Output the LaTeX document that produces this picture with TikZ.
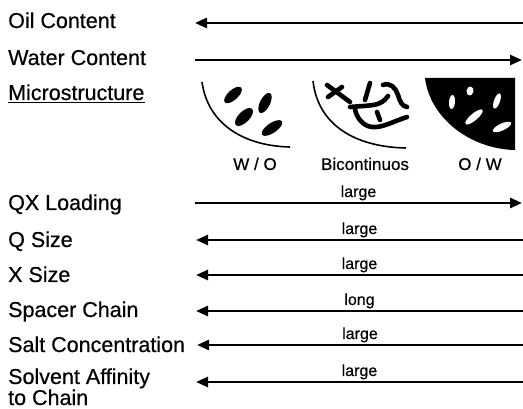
\documentclass[tikz,border=0pt]{standalone}
\usepackage{fontspec}
% heavier regular cut, as in the printed figure
\setmainfont{Liberation Sans}[BoldFont=Liberation Sans,BoldFeatures={FakeBold=0.5}]
\usetikzlibrary{arrows.meta}

\begin{document}
\begin{tikzpicture}[x=1pt,y=-1pt,
  >={Triangle[length=12pt,width=10pt]},
  rowlabel/.style={anchor=base west,inner sep=0pt,align=left,
    font=\fontsize{21.5}{18}\selectfont\bfseries},
  phase/.style={anchor=base,inner sep=0pt,font=\fontsize{17}{20}\selectfont\bfseries},
  amount/.style={midway,anchor=base,inner sep=0pt,yshift=6pt,
    font=\fontsize{16}{18}\selectfont\bfseries},
  trend/.style={line width=2.6pt},
  interface/.style={line width=1.6pt},
  worm/.style={line width=4.6pt,line cap=round}
]
\useasboundingbox (0,0) rectangle (523,409);

% row labels
\node[rowlabel] (oil)     at (8,28)  {Oil Content};
\node[rowlabel] (water)   at (8,65)  {Water Content};
\node[rowlabel] (micro)   at (8,100) {Microstructure};
\node[rowlabel] (qx)      at (8,210) {QX Loading};
\node[rowlabel] (qsize)   at (8,247) {Q Size};
\node[rowlabel] (xsize)   at (8,282) {X Size};
\node[rowlabel] (spacer)  at (8,317) {Spacer Chain};
\node[rowlabel] (salt)    at (8,352) {Salt Concentration};
\node[rowlabel] (solvent) at (8,405) {Solvent Affinity\\to Chain};
\draw[line width=1.6pt] ([yshift=-2.5pt]micro.base west) -- ([yshift=-2.5pt]micro.base east);

% arrow ends
\coordinate (oilL) at (195,23);     \coordinate (oilR) at (523,23);
\coordinate (waterL) at (195,60);   \coordinate (waterR) at (522,60);
\coordinate (qxL) at (195,203);     \coordinate (qxR) at (522,203);
\coordinate (qsizeL) at (196,240);  \coordinate (qsizeR) at (523,240);
\coordinate (xsizeL) at (196,275);  \coordinate (xsizeR) at (523,275);
\coordinate (spacerL) at (196,311); \coordinate (spacerR) at (523,311);
\coordinate (saltL) at (197,345);   \coordinate (saltR) at (523,345);
\coordinate (solventL) at (196,382);\coordinate (solventR) at (523,382);

\draw[trend,<-] (oilL) -- (oilR);
\draw[trend,->] (waterL) -- (waterR);
\draw[trend,->] (qxL) -- (qxR) node[amount] {large};
\draw[trend,<-] (qsizeL) -- (qsizeR) node[amount] {large};
\draw[trend,<-] (xsizeL) -- (xsizeR) node[amount] {large};
\draw[trend,<-] (spacerL) -- (spacerR) node[amount] {long};
\draw[trend,<-] (saltL) -- (saltR) node[amount] {large};
\draw[trend,<-] (solventL) -- (solventR) node[amount] {large};

% W/O droplets
\draw[interface] (202,82) .. controls (208,125) and (245,146) .. (290,147);
\fill[rotate around={42:(233,95)}] (233,95) ellipse [x radius=11,y radius=5];
\fill[rotate around={45:(244,117)}] (244,117) ellipse [x radius=11.5,y radius=5.5];
\fill[rotate around={63:(265,103)}] (265,103) ellipse [x radius=11,y radius=5];
\fill[rotate around={34:(272,128)}] (272,128) ellipse [x radius=12,y radius=5];
\node[phase] (wo) at (255,170) {W / O};

% bicontinuous channels
\draw[interface] (313,81) .. controls (318,125) and (355,147) .. (406,148);
\draw[worm] (327,85) -- (350,102);
\draw[worm] (328,97) -- (342,87);
\draw[worm] (370,83) -- (365,100);
\draw[worm] (383,85) .. controls (390,82) and (396,88) .. (398,95)
  .. controls (400,102) and (402,106) .. (407,107);
\draw[worm] (350,107) .. controls (360,106) and (375,106) .. (380,103)
  .. controls (384,101) and (386,99) .. (388,96);
\draw[worm] (355,109) .. controls (356,116) and (362,126) .. (372,127)
  .. controls (382,128) and (392,122) .. (407,117);
\draw[worm] (377,112) -- (380,120);
\node[phase] (bicont) at (365,170) {Bicontinuos};

% O/W droplets
\fill (425,78) -- (515,78) -- (515,150) .. controls (470,149) and (430,118) .. cycle;
\fill[white,rotate around={80:(470,91)}] (470,91) ellipse [x radius=4.5,y radius=3.5];
\fill[white,rotate around={85:(452,102)}] (452,102) ellipse [x radius=7,y radius=3];
\fill[white,rotate around={70:(497,101)}] (497,101) ellipse [x radius=8,y radius=3];
\fill[white,rotate around={40:(474,117)}] (474,117) ellipse [x radius=11,y radius=3.5];
\fill[white,rotate around={25:(502,127)}] (502,127) ellipse [x radius=10,y radius=3.5];
\node[phase] (ow) at (480,170) {O / W};
\end{tikzpicture}
\end{document}
